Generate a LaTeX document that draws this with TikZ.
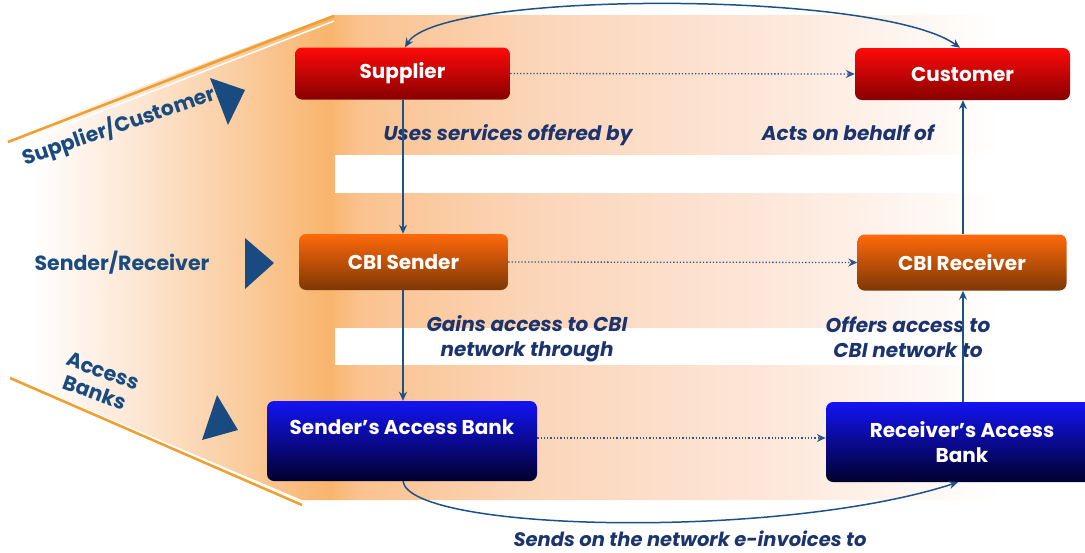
\documentclass[tikz,border=0pt]{standalone}
\usepackage{fontspec}
\setmainfont{Poppins}
\usetikzlibrary{arrows.meta}
\definecolor{navy}{RGB}{28,52,110}
\definecolor{steel}{RGB}{25,75,128}
\definecolor{arrowc}{RGB}{28,82,135}
\definecolor{dotc}{RGB}{50,85,135}
\definecolor{lineor}{RGB}{238,160,50}
\definecolor{pk0}{RGB}{255,255,255}
\definecolor{pk1}{RGB}{253,232,214}
\definecolor{pk2}{RGB}{250,205,160}
\definecolor{pk3}{RGB}{248,180,108}
\definecolor{pk4}{RGB}{250,194,142}
\definecolor{pk5}{RGB}{251,212,182}
\definecolor{pk6}{RGB}{253,230,216}
\definecolor{redt}{RGB}{255,10,10}
\definecolor{redb}{RGB}{135,0,0}
\definecolor{ort}{RGB}{255,105,10}
\definecolor{orb}{RGB}{125,55,5}
\definecolor{blt}{RGB}{20,20,245}
\definecolor{blb}{RGB}{0,0,45}
\pgfdeclarehorizontalshading{bgshade}{100bp}{color(0bp)=(pk0); color(26.5bp)=(pk0); color(31bp)=(pk1); color(36bp)=(pk2); color(40.2bp)=(pk3); color(41.5bp)=(pk4); color(49bp)=(pk5); color(60bp)=(pk6); color(71bp)=(pk0); color(100bp)=(pk0)}
\tikzset{
  boxbase/.style={rounded corners=7pt, text=white, font=\bfseries\fontsize{20}{25}\selectfont, align=center, inner sep=0pt},
  redbox/.style={boxbase, top color=redt, bottom color=redb, minimum width=215pt, minimum height=52pt},
  orbox/.style={boxbase, top color=ort, bottom color=orb, minimum width=209pt, minimum height=56pt},
  blbox/.style={boxbase, top color=blt, bottom color=blb, minimum width=270pt, minimum height=80pt},
  lab/.style={text=navy, font=\bfseries\itshape\fontsize{20}{25}\selectfont, align=center, inner sep=0pt},
  side/.style={text=steel, font=\bfseries\fontsize{20.5}{23}\selectfont, align=center, inner sep=0pt},
  conn/.style={draw=arrowc, line width=1.5pt, -{Stealth[length=9pt,width=8pt]}},
  dotconn/.style={draw=dotc, line width=1.3pt, dotted, -{Stealth[length=9pt,width=8pt]}},
  tri/.style={fill=steel, draw=none},
  orline/.style={draw=lineor, line width=2.6pt}
}
\begin{document}
\begin{tikzpicture}[x=1pt,y=-1pt]
\useasboundingbox (0,0) rectangle (1085,552);
% background
\shade[shading=bgshade] (0,140) -- (333,15) -- (1085,15) -- (1085,500) -- (302,500) -- (0,372) -- cycle;
\fill[white] (335,155) rectangle (1085,193);
\fill[white] (335,328) rectangle (1085,365);
\draw[white, line width=1.5pt] (14,145) -- (334,21);
\draw[orline] (8,142) -- (334,16);
\draw[orline] (10,378) -- (302,505);
% side labels
\node[side, rotate=19] (sc) at (119,126) {Supplier/Customer};
\fill[tri] (210,78) -- (245,90) -- (228,125) -- cycle;
\node[side] (sr) at (122,263) {Sender/Receiver};
\fill[tri] (245,238) -- (274,263) -- (245,289) -- cycle;
\node[side, rotate=-20] (ab) at (99,382) {Access\\Banks};
\fill[tri] (217,395) -- (238,430) -- (202,440) -- cycle;
% boxes
\node[redbox] (sup) at (402.5,73.5) {Supplier};
\node[redbox] (cus) at (962.5,74) {Customer};
\node[orbox] (snd) at (403.5,262) {CBI Sender};
\node[orbox] (rcv) at (962,262.5) {CBI Receiver};
\node[blbox] (sab) at (402,441) {Sender’s Access Bank\\[2pt]\mbox{}};
\node[blbox, minimum width=272pt] (rab) at (962,442) {Receiver’s Access\\Bank};
% labels
\node[lab] (l1) at (508,135) {Uses services offered by};
\node[lab] (l2) at (848,133) {Acts on behalf of};
\node[lab] (l3) at (527,339) {Gains access to CBI\\network through};
\node[lab] (l4) at (908,337) {Offers access to\\CBI network to};
\node[lab, font=\bfseries\itshape\fontsize{19.5}{24}\selectfont] (l5) at (690,539) {Sends on the network e-invoices to};
% connectors
\draw[conn] (sup.south -| 403,0) -- (snd.north -| 403,0);
\draw[conn] (snd.south -| 403,0) -- (sab.north -| 403,0);
\draw[conn] (rab.north -| 963,0) -- (rcv.south -| 963,0);
\draw[conn] (rcv.north -| 963,0) -- (cus.south -| 963,0);
\draw[dotconn] (sup.east) -- (cus.west);
\draw[dotconn] (snd.east) -- (rcv.west);
\draw[dotconn] (sab.east |- 0,438) -- (rab.west |- 0,438);
\draw[conn, {Stealth[length=9pt,width=8pt]}-{Stealth[length=9pt,width=8pt]}] (sup.north -| 405,0) .. controls (440,-10) and (880,-10) .. (cus.north -| 960,0);
\draw[conn] (sab.south -| 403,0) .. controls (410,532) and (780,540) .. (rab.south -| 958,0);
\end{tikzpicture}
\end{document}
